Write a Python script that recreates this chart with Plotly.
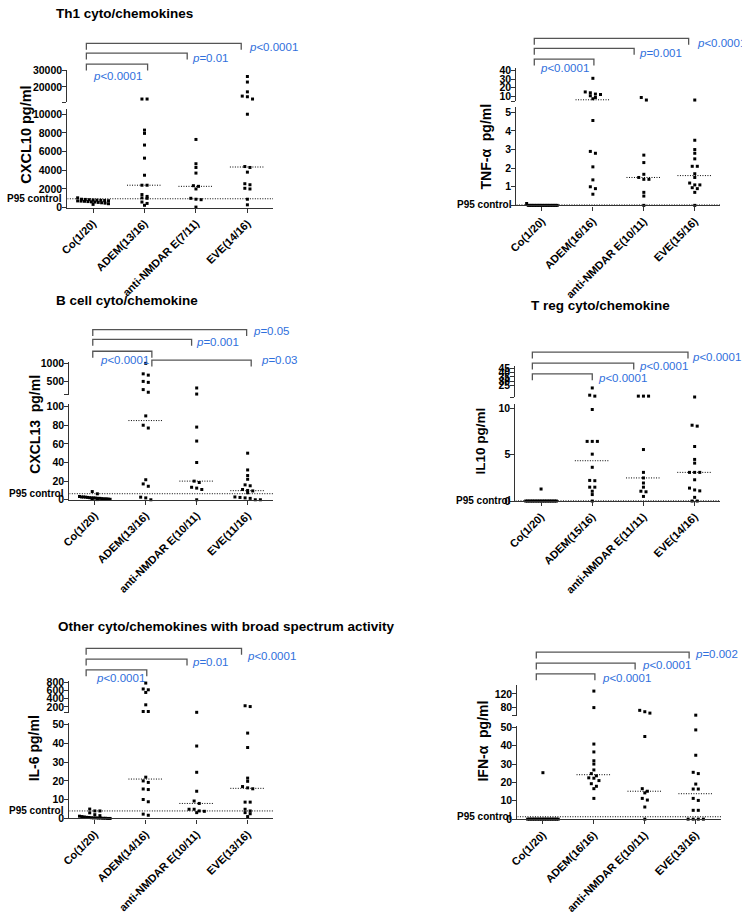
import numpy as np
import plotly.graph_objects as go

W, H = 742, 914
FONT = "Liberation Sans, Arial, sans-serif"
BLUE = "#2f6fdc"
AXC = "#333333"

# ---------------- data ----------------
groups = ["Co", "ADEM", "anti-NMDAR E", "EVE"]

labels_cxcl10 = ["Co(1/20)", "ADEM(13/16)", "anti-NMDAR E(7/11)", "EVE(14/16)"]
co_cxcl10 = [1050, 900, 880, 850, 820, 800, 780, 760, 740, 720, 700, 680, 650, 620, 600, 560, 520, 480, 420, 350]
adem_cxcl10 = [12600, 12600, 8300, 7950, 6700, 5300, 3470, 2400, 2400, 1400, 1200, 1050, 1000, 600, 450, 250]
anti_cxcl10 = [7300, 4700, 4300, 3700, 2350, 2280, 2000, 1000, 900, 850, 60]
eve_cxcl10 = [26400, 23000, 17000, 14400, 14000, 12600, 10000, 4400, 4300, 3800, 2560, 2450, 2070, 2000, 900, 300]

labels_tnf = ["Co(1/20)", "ADEM(16/16)", "anti-NMDAR E(10/11)", "EVE(15/16)"]
co_tnf = [0.1] + [0.0] * 19
adem_tnf = [31, 15, 14, 12.5, 12, 10.5, 8.5, 7, 4.56, 2.9, 2.8, 2.07, 1.37, 1.0, 0.9, 0.6]
anti_tnf = [8.5, 5.5, 2.7, 2.3, 1.67, 1.5, 1.4, 1.4, 0.7, 0.5, 0]
eve_tnf = [5.5, 3.5, 3.0, 2.8, 2.5, 2.1, 2.1, 1.7, 1.5, 1.2, 1.1, 1.1, 0.95, 0.9, 0.7, 0]

labels_cxcl13 = ["Co(1/20)", "ADEM(13/16)", "anti-NMDAR E(10/11)", "EVE(11/16)"]
co_cxcl13 = [8.8, 6.4, 3.5, 3, 3, 2.8, 2.5, 2.2, 2, 2, 1.8, 1.5, 1.5, 1.2, 1, 1, 0.8, 0.5, 0.3, 0.2]
adem_cxcl13 = [1000, 709, 673, 500, 473, 273, 200, 90, 80, 77, 21.5, 17, 14.5, 2.8, 2, 0]
anti_cxcl13 = [318, 150, 78, 63, 40, 20, 18.5, 13.4, 12.5, 11, 0]
eve_cxcl13 = [50, 32, 26, 22, 16, 15, 11, 10, 9.5, 7.5, 3, 2.5, 2, 1.5, 0, 0]

labels_il10 = ["Co(1/20)", "ADEM(15/16)", "anti-NMDAR E(11/11)", "EVE(14/16)"]
co_il10 = [1.3] + [0.0] * 19
adem_il10 = [22.4, 14.1, 13, 9.9, 6.45, 6.45, 6.45, 5.07, 3.65, 2.23, 2.2, 1.5, 1.5, 1.06, 0.7, 0]
anti_il10 = [13, 13, 13, 5.57, 3.1, 2.5, 1.95, 1.5, 1.06, 1.0, 0.5]
eve_il10 = [12, 8.2, 8.1, 5.9, 4.5, 4.1, 3.1, 3.1, 3.1, 2.3, 1.4, 1.2, 1.1, 0.4, 0, 0]

labels_il6 = ["Co(1/20)", "ADEM(14/16)", "anti-NMDAR E(10/11)", "EVE(13/16)"]
co_il6 = [5.0, 4.0, 4.0, 3.0, 2.0, 1.5, 1.2, 1.0, 0.8, 0.6, 0.5, 0.4, 0.3, 0.3, 0.2, 0.2, 0.1, 0.1, 0, 0]
adem_il6 = [784, 640, 620, 555, 253, 90, 90, 22, 20, 19.2, 15.7, 15.4, 10.1, 8.9, 2.3, 1.7]
anti_il6 = [70, 38.6, 24.6, 14.5, 9.3, 8.0, 4.9, 4.9, 4.0, 3.8, 3.1]
eve_il6 = [230, 210, 45.5, 37.8, 21.5, 19.8, 17, 16.3, 15.8, 8.7, 8.7, 4.9, 4.0, 3.1, 2.5, 1.0]

labels_ifn = ["Co(1/20)", "ADEM(16/16)", "anti-NMDAR E(10/11)", "EVE(13/16)"]
co_ifn = [25.3] + [0.0] * 19
adem_ifn = [128, 80, 40.9, 36.6, 31.8, 30, 26.8, 24.8, 23.6, 22.5, 22.3, 21, 19.3, 17.9, 16.6, 11.3]
anti_ifn = [72, 68, 64, 45, 16.6, 15.2, 14.3, 11.3, 10.4, 6.6, 0]
eve_ifn = [58, 48.6, 34.8, 25.5, 24.8, 19.1, 16.4, 16.4, 11.3, 10.2, 4.8, 4.8, 0, 0, 0, 0]

p95_values = [950, 0.02, 6.5, 0.02, 4.0, 1.3]

# ---------------- layout spec (pixels) ----------------
panels = [
    dict(data=[co_cxcl10, adem_cxcl10, anti_cxcl10, eve_cxcl10], labels=labels_cxcl10,
         xpx=(60, 268), low=(205, 105, 0, 10530), up=(98, 65, 10540, 30420),
         lt=[0, 2000, 4000, 6000, 8000, 10000], ltt=["0", "2000", "4000", "6000", "8000", "10000"],
         ut=[10540, 20000, 30000], utt=["", "20000", "30000"],
         ylab="CXCL10 pg/ml", ylpos=(18, 131), ylsize=14.5,
         br=[(-0.13, 2.88, 38), (-0.13, 1.83, 48), (-0.13, 1.06, 59)],
         pt=[("<i>p</i>&lt;0.0001", 85, 71), ("<i>p</i>=0.01", 185, 53), ("<i>p</i>&lt;0.0001", 243, 42)]),
    dict(data=[co_tnf, adem_tnf, anti_tnf, eve_tnf], labels=labels_tnf,
         xpx=(514, 720), low=(202.7, 103, 0, 5.27), up=(96.7, 63.3, 4.23, 42.8),
         lt=[0, 1, 2, 3, 4, 5], ltt=["", "1", "2", "3", "4", "5"],
         ut=[4.23, 10, 20, 30, 40], utt=["", "10", "20", "30", "40"],
         ylab="TNF-α  pg/ml", ylpos=(483, 143), ylsize=14,
         br=[(-0.15, 2.88, 33), (-0.15, 1.81, 43), (-0.15, 1.02, 54)],
         pt=[("<i>p</i>&lt;0.0001", 537, 63), ("<i>p</i>=0.001", 637, 48), ("<i>p</i>&lt;0.0001", 696, 38)]),
    dict(data=[co_cxcl13, adem_cxcl13, anti_cxcl13, eve_cxcl13], labels=labels_cxcl13,
         xpx=(62, 268), low=(502, 405, 0, 102.4), up=(395, 362, 137, 1035),
         lt=[0, 20, 40, 60, 80, 100], ltt=["0", "20", "40", "60", "80", "100"],
         ut=[137, 500, 1000], utt=["", "500", "1000"],
         ylab="CXCL13  pg/ml", ylpos=(27, 425), ylsize=14,
         br=[(-0.04, 2.98, 329), (-0.04, 1.9, 339), (-0.04, 1.12, 351), (1.12, 3.07, 360)],
         pt=[("<i>p</i>=0.05", 247, 330), ("<i>p</i>=0.001", 189, 342), ("<i>p</i>&lt;0.0001", 92, 360),
             ("<i>p</i>=0.03", 255, 360)]),
    dict(data=[co_il10, adem_il10, anti_il10, eve_il10], labels=labels_il10,
         xpx=(513, 720), low=(503.3, 404.3, 0, 10.53), up=(397.7, 366, 11.8, 47.6),
         lt=[0, 5, 10], ltt=["0", "5", "10"],
         ut=[11.8, 25, 30, 35, 40, 45], utt=["", "25", "30", "35", "40", "45"],
         ylab="IL10 pg/ml", ylpos=(478, 442), ylsize=13.5,
         br=[(-0.17, 2.87, 352), (-0.17, 1.81, 363), (-0.17, 1.0, 374)],
         pt=[("<i>p</i>&lt;0.0001", 690, 357), ("<i>p</i>&lt;0.0001", 637, 366), ("<i>p</i>&lt;0.0001", 595, 378)]),
    dict(data=[co_il6, adem_il6, anti_il6, eve_il6], labels=labels_il6,
         xpx=(62, 268), low=(826, 729.3, 0, 50.7), up=(718.3, 686, 65, 841),
         lt=[0, 10, 20, 30, 40, 50], ltt=["0", "10", "20", "30", "40", "50"],
         ut=[65, 200, 400, 600, 800], utt=["", "200", "400", "600", "800"],
         ylab="IL-6 pg/ml", ylpos=(26, 755), ylsize=14,
         br=[(-0.17, 2.88, 653), (-0.17, 1.81, 664), (-0.17, 1.02, 675)],
         pt=[("<i>p</i>&lt;0.0001", 88, 683), ("<i>p</i>=0.01", 185, 667), ("<i>p</i>&lt;0.0001", 241, 661)]),
    dict(data=[co_ifn, adem_ifn, anti_ifn, eve_ifn], labels=labels_ifn,
         xpx=(515, 721), low=(826.7, 731.7, 0, 50.9), up=(721.7, 690.7, 56, 144.6),
         lt=[0, 10, 20, 30, 40, 50], ltt=["0", "10", "20", "30", "40", "50"],
         ut=[56, 80, 120], utt=["", "80", "120"],
         ylab="IFN-α  pg/ml", ylpos=(480, 747), ylsize=14,
         br=[(-0.13, 2.87, 657), (-0.13, 1.81, 668), (-0.13, 1.02, 679)],
         pt=[("<i>p</i>=0.002", 693, 659), ("<i>p</i>&lt;0.0001", 640, 670), ("<i>p</i>&lt;0.0001", 599, 683)]),
]

titles = [("Th1 cyto/chemokines", 48, 8), ("B cell cyto/chemokine", 48, 299),
          ("T reg cyto/chemokine", 528, 304),
          ("Other cyto/chemokines with broad spectrum activity", 50, 631)]


def fx(px):
    return px / W


def fy(py):
    return 1 - py / H


def seg_px(v, seg):
    b, t, r0, r1 = seg
    return b - (v - r0) / (r1 - r0) * (b - t)


def swarm(vals, p):
    pts = []
    for v in vals:
        which = "u" if v > p["low"][3] else "l"
        seg = p["up"] if which == "u" else p["low"]
        pts.append((seg_px(v, seg), v, which))
    pts.sort(key=lambda a: a[0])
    grs = []
    for q in pts:
        if grs and abs(q[0] - grs[-1][0][0]) <= 3.0:
            grs[-1].append(q)
        else:
            grs.append([q])
    out = []
    for g in grs:
        n = len(g)
        sp = 0.1
        if n > 1 and (n - 1) * sp > 0.6:
            sp = 0.6 / (n - 1)
        for i, q in enumerate(g):
            out.append(((i - (n - 1) / 2) * sp, q[1], q[2]))
    return out


fig = go.Figure()
layout = dict(width=W, height=H, margin=dict(l=0, r=0, t=0, b=0), autosize=False,
              paper_bgcolor="white", plot_bgcolor="white", showlegend=False)
shapes = []
annotations = []

tickfont = dict(family=FONT, size=10.5, color="black", weight="bold")
yax_common = dict(tickfont=tickfont, showline=True, linecolor=AXC, linewidth=1.3, ticks="outside",
                  ticklen=4, tickcolor=AXC, showgrid=False, zeroline=False, fixedrange=True,
                  ticklabelstandoff=-2)

for k, p in enumerate(panels):
    xi = "" if k == 0 else str(k + 1)
    yl = "" if k == 0 else str(2 * k + 1)
    yu = str(2 * k + 2)
    xref, ylref, yuref = "x" + xi, "y" + yl, "y" + yu

    layout["xaxis" + xi] = dict(
        domain=[fx(p["xpx"][0]), fx(p["xpx"][1])], range=[-0.5, 3.5], anchor=ylref,
        tickvals=[0, 1, 2, 3], ticktext=p["labels"], tickangle=-45,
        tickfont=dict(family=FONT, size=11, color="black", weight="bold"),
        showline=True, linecolor=AXC, linewidth=1.3, ticks="outside", ticklen=4,
        tickcolor=AXC, showgrid=False, zeroline=False, fixedrange=True)
    layout["yaxis" + yl] = dict(
        domain=[fy(p["low"][0]), fy(p["low"][1])], range=[p["low"][2], p["low"][3]], anchor=xref,
        tickvals=p["lt"], ticktext=p["ltt"], **yax_common)
    layout["yaxis" + yu] = dict(
        domain=[fy(p["up"][0]), fy(p["up"][1])], range=[p["up"][2], p["up"][3]], anchor=xref,
        tickvals=p["ut"], ticktext=p["utt"], **yax_common)

    for ci, vals in enumerate(p["data"]):
        sw = swarm(vals, p)
        for which, yref in (("l", "y" + yl), ("u", "y" + yu)):
            xs = [ci + o for o, v, w in sw if w == which]
            ys = [v for o, v, w in sw if w == which]
            if xs:
                fig.add_trace(go.Scatter(
                    x=xs, y=ys, mode="markers", xaxis=xref, yaxis=yref, cliponaxis=False,
                    marker=dict(symbol="square", size=3, color="black", line=dict(width=0)),
                    hoverinfo="y"))
        if ci > 0:
            med = float(np.median(vals))
            yref = ("y" + yu) if med > p["low"][3] else ("y" + yl)
            fig.add_trace(go.Scatter(
                x=[ci - 0.34, ci + 0.34], y=[med, med], mode="lines", xaxis=xref, yaxis=yref,
                cliponaxis=False, line=dict(color="black", width=1, dash="1px,1.5px"), hoverinfo="skip"))

    # P95 line and label
    p95 = p95_values[k]
    fig.add_trace(go.Scatter(
        x=[-0.5, 3.5], y=[p95, p95], mode="lines", xaxis=xref, yaxis="y" + yl, cliponaxis=False,
        line=dict(color="black", width=1, dash="1px,1.5px"), hoverinfo="skip"))
    annotations.append(dict(text="P95 control", x=fx(p["xpx"][0] - 4), xref="paper", xanchor="right",
                            y=p95, yref="y" + yl, yanchor="middle", showarrow=False, borderpad=0,
                            font=dict(family=FONT, size=10, color="black", weight="bold")))

    # y label
    annotations.append(dict(text=p["ylab"], x=fx(p["ylpos"][0]), y=fy(p["ylpos"][1]), xref="paper",
                            yref="paper", xanchor="center", yanchor="middle", textangle=-90,
                            showarrow=False, borderpad=0,
                            font=dict(family=FONT, size=p["ylsize"], color="black", weight="bold")))

    # brackets
    for (a, b, ypx) in p["br"]:
        y0 = fy(ypx)
        y1 = fy(ypx + 6.5)
        shapes.append(dict(type="path", xref=xref, yref="paper",
                           path=f"M {a},{y1} L {a},{y0} L {b},{y0} L {b},{y1}",
                           line=dict(color="#555555", width=1.3)))
    for (txt, xpx, ypx) in p["pt"]:
        annotations.append(dict(text=txt, x=fx(xpx), y=fy(ypx), xref="paper", yref="paper",
                                xanchor="left", yanchor="middle", showarrow=False, borderpad=0,
                                font=dict(family=FONT, size=11.5, color=BLUE)))

for (txt, xpx, ypx) in titles:
    annotations.append(dict(text=txt, x=fx(xpx), y=fy(ypx), xref="paper", yref="paper",
                            xanchor="left", yanchor="middle", showarrow=False, borderpad=0,
                            font=dict(family=FONT, size=13.5, color="black", weight="bold")))

layout["shapes"] = shapes
layout["annotations"] = annotations
fig.update_layout(**layout)
fig.write_html("out.html", config={"displayModeBar": False},
               post_script="document.body.style.margin='0px';document.body.style.overflow='hidden';")
